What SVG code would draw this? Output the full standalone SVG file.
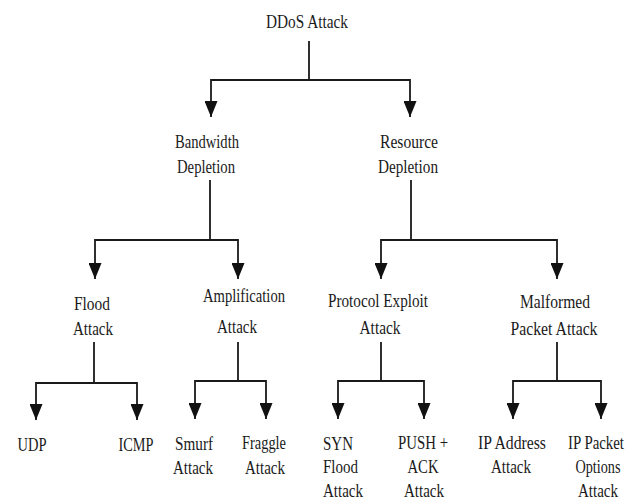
<svg xmlns="http://www.w3.org/2000/svg" width="636" height="502" viewBox="0 0 636 502">
<style>
.t{font-family:"Liberation Serif","Times New Roman",serif;font-size:19px;fill:#1a1a1a;text-anchor:middle}
.s{text-anchor:start}
.c{fill:none;stroke:#1a1a1a;stroke-width:1.8}
</style>
<defs>
<marker id="ah" markerUnits="userSpaceOnUse" markerWidth="16" markerHeight="13" refX="16" refY="6.5" orient="auto">
<path d="M0,0 L16,6.5 L0,13 z" fill="#111"/>
</marker>
</defs>
<rect width="636" height="502" fill="#fff"/>
<g id="connectors">
<path class="c" d="M309,41 V80 H211 V117" marker-end="url(#ah)"/>
<path class="c" d="M309,80 H410 V117" marker-end="url(#ah)"/>
<path class="c" d="M210,180 V240 H95 V279" marker-end="url(#ah)"/>
<path class="c" d="M210,240 H238 V279" marker-end="url(#ah)"/>
<path class="c" d="M411,180 V240 H381 V279" marker-end="url(#ah)"/>
<path class="c" d="M411,240 H557 V279" marker-end="url(#ah)"/>
<path class="c" d="M94,342 V383 H36 V420" marker-end="url(#ah)"/>
<path class="c" d="M94,383 H137 V420" marker-end="url(#ah)"/>
<path class="c" d="M238,342 V381 H195 V419" marker-end="url(#ah)"/>
<path class="c" d="M238,381 H266 V419" marker-end="url(#ah)"/>
<path class="c" d="M381,342 V381 H338 V419" marker-end="url(#ah)"/>
<path class="c" d="M381,381 H424 V419" marker-end="url(#ah)"/>
<path class="c" d="M557,342 V381 H513 V419" marker-end="url(#ah)"/>
<path class="c" d="M557,381 H601 V419" marker-end="url(#ah)"/>
</g>
<g id="ddos"><text class="t" x="307" y="28" textLength="82" lengthAdjust="spacingAndGlyphs">DDoS Attack</text></g>
<g id="bandwidth">
<text class="t" x="207" y="148" textLength="64" lengthAdjust="spacingAndGlyphs">Bandwidth</text>
<text class="t" x="206" y="173" textLength="58" lengthAdjust="spacingAndGlyphs">Depletion</text>
</g>
<g id="resource">
<text class="t" x="409" y="148" textLength="58" lengthAdjust="spacingAndGlyphs">Resource</text>
<text class="t" x="408" y="173" textLength="60" lengthAdjust="spacingAndGlyphs">Depletion</text>
</g>
<g id="flood">
<text class="t" x="92" y="310" textLength="36" lengthAdjust="spacingAndGlyphs">Flood</text>
<text class="t" x="93" y="335" textLength="40" lengthAdjust="spacingAndGlyphs">Attack</text>
</g>
<g id="amplification">
<text class="t" x="244" y="302" textLength="82" lengthAdjust="spacingAndGlyphs">Amplification</text>
<text class="t" x="237" y="333" textLength="40" lengthAdjust="spacingAndGlyphs">Attack</text>
</g>
<g id="protocol">
<text class="t" x="378" y="307" textLength="100" lengthAdjust="spacingAndGlyphs">Protocol Exploit</text>
<text class="t" x="380" y="334" textLength="41" lengthAdjust="spacingAndGlyphs">Attack</text>
</g>
<g id="malformed">
<text class="t" x="555" y="308" textLength="70" lengthAdjust="spacingAndGlyphs">Malformed</text>
<text class="t" x="554" y="335" textLength="87" lengthAdjust="spacingAndGlyphs">Packet Attack</text>
</g>
<g id="udp"><text class="t" x="32" y="451" textLength="29" lengthAdjust="spacingAndGlyphs">UDP</text></g>
<g id="icmp"><text class="t" x="136" y="451" textLength="35" lengthAdjust="spacingAndGlyphs">ICMP</text></g>
<g id="smurf">
<text class="t" x="194" y="450" textLength="38" lengthAdjust="spacingAndGlyphs">Smurf</text>
<text class="t" x="193" y="474" textLength="40" lengthAdjust="spacingAndGlyphs">Attack</text>
</g>
<g id="fraggle">
<text class="t" x="264" y="449" textLength="44" lengthAdjust="spacingAndGlyphs">Fraggle</text>
<text class="t" x="265" y="474" textLength="40" lengthAdjust="spacingAndGlyphs">Attack</text>
</g>
<g id="syn">
<text class="t s" x="323" y="450" textLength="30" lengthAdjust="spacingAndGlyphs">SYN</text>
<text class="t s" x="323" y="473" textLength="35" lengthAdjust="spacingAndGlyphs">Flood</text>
<text class="t s" x="323" y="497" textLength="40" lengthAdjust="spacingAndGlyphs">Attack</text>
</g>
<g id="pushack">
<text class="t" x="423" y="449" textLength="50" lengthAdjust="spacingAndGlyphs">PUSH +</text>
<text class="t" x="423" y="473" textLength="31" lengthAdjust="spacingAndGlyphs">ACK</text>
<text class="t" x="424" y="497" textLength="40" lengthAdjust="spacingAndGlyphs">Attack</text>
</g>
<g id="ipaddress">
<text class="t" x="512" y="449" textLength="68" lengthAdjust="spacingAndGlyphs">IP Address</text>
<text class="t" x="511" y="473" textLength="40" lengthAdjust="spacingAndGlyphs">Attack</text>
</g>
<g id="ippacket">
<text class="t" x="596" y="449" textLength="56" lengthAdjust="spacingAndGlyphs">IP Packet</text>
<text class="t" x="598" y="473" textLength="45" lengthAdjust="spacingAndGlyphs">Options</text>
<text class="t" x="598" y="497" textLength="40" lengthAdjust="spacingAndGlyphs">Attack</text>
</g>
</svg>
